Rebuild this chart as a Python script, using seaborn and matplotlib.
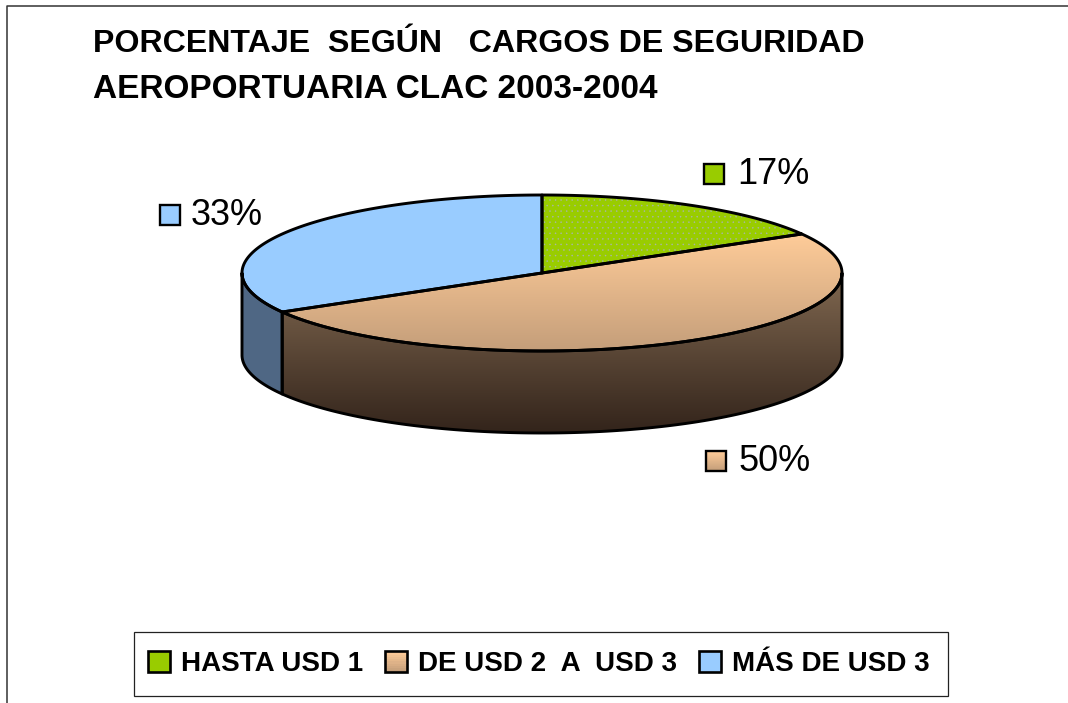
import numpy as np
import seaborn as sns
import matplotlib.pyplot as plt
from matplotlib.legend_handler import HandlerBase
from matplotlib.patches import Patch, Polygon, Rectangle

# chart values
categories = ['HASTA USD 1', 'DE USD 2  A  USD 3', 'MÁS DE USD 3']
counts = [1, 3, 2]  # the slices sit at exactly 60, 180 and 120 degrees
title_lines = ['PORCENTAJE  SEGÚN   CARGOS DE SEGURIDAD', 'AEROPORTUARIA CLAC 2003-2004']

GREEN = '#99cc00'
BLUE = '#99ccff'
PEACH_TOP = '#ffcc99'
PEACH_BOTTOM = '#c49e7a'
BROWN_TOP = '#806850'
BROWN_BOTTOM = '#33241b'
SIDE_BLUE = '#4f6784'

# pie geometry in image pixels
CX, CY, RX, RY, DEPTH = 542, 273, 300, 78, 82
LINE = 2.1

sns.set_theme(style='white')
plt.rcParams['font.family'] = ['Liberation Sans', 'DejaVu Sans']

fig = plt.figure(figsize=(10.68, 7.03), dpi=100)
ax = fig.add_axes([0, 0, 1, 1])


def edge(start, stop, dy=0):
    """Points on the ellipse, angles clockwise from the top."""
    t = np.radians(np.linspace(start, stop, 150))
    return np.column_stack([CX + RX * np.sin(t), CY - RY * np.cos(t) + dy])


def gradient(poly, top, bottom, y0, y1):
    """Fill a polygon with a vertical gradient."""
    colors = np.array(sns.blend_palette([top, bottom], 128))[:, None, :]
    xs = poly[:, 0]
    im = ax.imshow(colors, extent=(xs.min(), xs.max(), y1, y0), origin='upper',
                   aspect='auto', zorder=2, interpolation='bilinear')
    im.set_clip_path(Polygon(poly, transform=ax.transData))


def outline(poly, z=3):
    ax.add_patch(Polygon(poly, closed=True, fill=False, edgecolor='black',
                         linewidth=LINE, joinstyle='round', zorder=z))


ends = 360 * np.cumsum(counts) / np.sum(counts)
a_green, a_peach = ends[0], ends[1]
percents = [round(100 * c / sum(counts)) for c in counts]
center = np.array([[CX, CY]])

# side walls
wall_front = np.vstack([edge(90, a_peach), edge(90, a_peach, DEPTH)[::-1]])
wall_left = np.vstack([edge(a_peach, 270), edge(a_peach, 270, DEPTH)[::-1]])
gradient(wall_front, BROWN_TOP, BROWN_BOTTOM, CY, CY + DEPTH + RY)
ax.add_patch(Polygon(wall_left, closed=True, facecolor=SIDE_BLUE, edgecolor='none', zorder=2))
outline(wall_front)
outline(wall_left)

# top face
top_green = np.vstack([center, edge(0, a_green)])
top_peach = np.vstack([center, edge(a_green, a_peach)])
top_blue = np.vstack([center, edge(a_peach, 360)])
ax.add_patch(Polygon(top_green, closed=True, facecolor=GREEN, edgecolor='none', zorder=2))
plt.rcParams['hatch.linewidth'] = 0.3
ax.add_patch(Polygon(top_green, closed=True, fill=False, edgecolor='#a9b4b0', hatch='...',
                     linewidth=0, zorder=2))
gradient(top_peach, PEACH_TOP, PEACH_BOTTOM, CY - 40, CY + RY)
ax.add_patch(Polygon(top_blue, closed=True, facecolor=BLUE, edgecolor='none', zorder=2))
for poly in (top_green, top_peach, top_blue):
    outline(poly, z=4)


# data labels with their little keys
def value_label(x, baseline, value, face, gap=33, peach=False):
    if peach:
        colors = np.array(sns.blend_palette([PEACH_TOP, PEACH_BOTTOM], 32))[:, None, :]
        ax.imshow(colors, extent=(x, x + 20, baseline, baseline - 20), origin='upper',
                  aspect='auto', zorder=2)
    ax.add_patch(Rectangle((x, baseline - 20), 20, 20, facecolor=face if not peach else 'none',
                           edgecolor='black', linewidth=1.7, zorder=3))
    ax.text(x + gap, baseline, f'{value}%', fontsize=26, color='black', va='baseline', ha='left')


value_label(704, 184, percents[0], GREEN)
value_label(706, 471, percents[1], None, peach=True)
value_label(160, 225, percents[2], BLUE, gap=31)

# title
ax.text(93, 52, title_lines[0], fontsize=23.1, fontweight='bold', color='black', va='baseline')
ax.text(93, 98, title_lines[1], fontsize=24, fontweight='bold', color='black', va='baseline')

# chart area border, only the left and top sides show
ax.plot([7, 7, 1068], [703, 5.5, 5.5], color='#333333', linewidth=1.1, zorder=1)


class KeyHandler(HandlerBase):
    """Legend key, the peach one carries its gradient in bands."""

    def create_artists(self, legend, orig, xd, yd, w, h, fontsize, trans):
        x, y = -xd - 3, -yd
        artists = []
        if orig.get_gid():
            colors = sns.blend_palette([PEACH_TOP, PEACH_BOTTOM], 10)
            for i, c in enumerate(colors):
                artists.append(Rectangle((x, y + h * (9 - i) / 10), w, h / 10, facecolor=c,
                                         edgecolor='none', transform=trans))
            artists.append(Rectangle((x, y), w, h, fill=False, edgecolor='black',
                                     linewidth=1.9, transform=trans))
        else:
            artists.append(Rectangle((x, y), w, h, facecolor=orig.get_facecolor(),
                                     edgecolor='black', linewidth=1.9, transform=trans))
        return artists


handles = [Patch(facecolor=GREEN), Patch(facecolor=PEACH_TOP, gid='bands'), Patch(facecolor=BLUE)]
ax.set_xlim(0, 1068)
ax.set_ylim(703, 0)
ax.axis('off')
leg = ax.legend(handles, categories, ncol=3, loc='center', bbox_to_anchor=(541, 664),
                bbox_transform=ax.transData, handler_map={Patch: KeyHandler()},
                prop={'weight': 'bold', 'size': 20},
                labelcolor='black', frameon=True, fancybox=False,
                framealpha=1, edgecolor='#222222', handlelength=0.79, handleheight=0.79,
                handletextpad=0.234, columnspacing=0.95, borderpad=0.665, borderaxespad=0)
leg.get_frame().set_linewidth(0.9)
leg.set_zorder(5)

fig.savefig('out.png', dpi=100)
